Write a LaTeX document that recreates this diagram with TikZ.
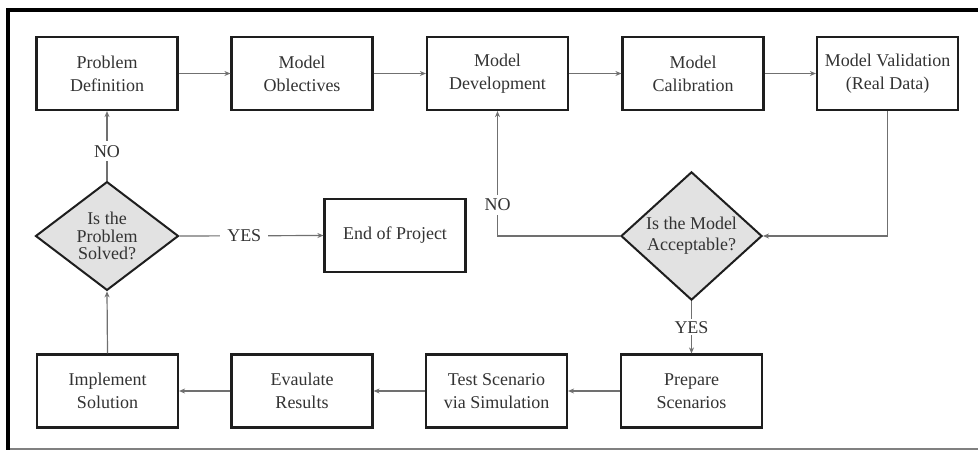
\documentclass[tikz,border=0pt]{standalone}
\usepackage{fontspec}
\setmainfont{Liberation Serif}
\usetikzlibrary{shapes.geometric,arrows.meta}
\definecolor{boxline}{HTML}{1E1E1E}
\definecolor{connc}{HTML}{707070}
\definecolor{txt}{HTML}{333333}
\definecolor{dfill}{HTML}{E2E2E2}
\begin{document}
\begin{tikzpicture}[x=1pt,y=-1pt,
 procbox/.style={draw=boxline, line width=2.2pt, minimum width=141pt, minimum height=73pt, inner sep=0pt, align=center, text=txt, font=\fontsize{18}{23}\selectfont},
 decis/.style={diamond, draw=boxline, line width=2pt, fill=dfill, inner sep=0pt, align=center, text=txt},
 conn/.style={draw=connc, line width=1.2pt, -{Stealth[length=6pt,width=5pt]}},
 lbl/.style={fill=white, text=txt, inner sep=2pt, font=\fontsize{18}{20}\selectfont}]
\fill[white] (0,0) rectangle (978,450);
\useasboundingbox (0,0) rectangle (978,450);
\draw[black, line width=4pt] (8,450) -- (8,9.5) -- (978,9.5);
\draw[gray, line width=2pt] (10,448.5) -- (978,448.5);

\node[procbox] (pd) at (107,73.5) {Problem\\Definition};
\node[procbox] (mo) at (302,73.5) {Model\\Oblectives};
\node[procbox] (md) at (497.5,73.5) {Model\\Development};
\node[procbox] (mc) at (693,73.5) {Model\\Calibration};
\node[procbox] (mv) at (887.5,73.5) {Model Validation\\(Real Data)};

\node[decis, minimum width=143pt, minimum height=105pt, font=\fontsize{18}{17.5}\selectfont] (ps) at (107,236) {Is the\\Problem\\Solved?};
\node[procbox] (ep) at (395,235.5) {End of Project};
\node[decis, minimum width=141pt, minimum height=120pt, font=\fontsize{18}{21}\selectfont] (ma) at (691.5,236) {Is the Model\\Acceptable?};

\node[procbox] (is) at (107.5,391) {Implement\\Solution};
\node[procbox] (er) at (302,391) {Evaulate\\Results};
\node[procbox] (ts) at (496.5,391) {Test Scenario\\via Simulation};
\node[procbox] (pr) at (691.5,391) {Prepare\\Scenarios};

\draw[conn] (pd) -- (mo);
\draw[conn] (mo) -- (md);
\draw[conn] (md) -- (mc);
\draw[conn] (mc) -- (mv);
\draw[conn] (mv.south) |- (ma.east);
\draw[conn] (ma.west) -| node[lbl, pos=0.625, inner ysep=4pt] {NO} (md.south);
\draw[conn] (ma.south) -- node[lbl] {YES} (pr.north);
\draw[conn] (pr) -- (ts);
\draw[conn] (ts) -- (er);
\draw[conn] (er) -- (is);
\draw[conn] (is.north) -- (ps.south);
\draw[conn] (ps.north) -- node[lbl, pos=0.42, inner ysep=4pt] {NO} (pd.south);
\draw[conn] (ps.east) -- node[lbl, pos=0.45, inner xsep=7pt] {YES} (ep.west);
\end{tikzpicture}
\end{document}
